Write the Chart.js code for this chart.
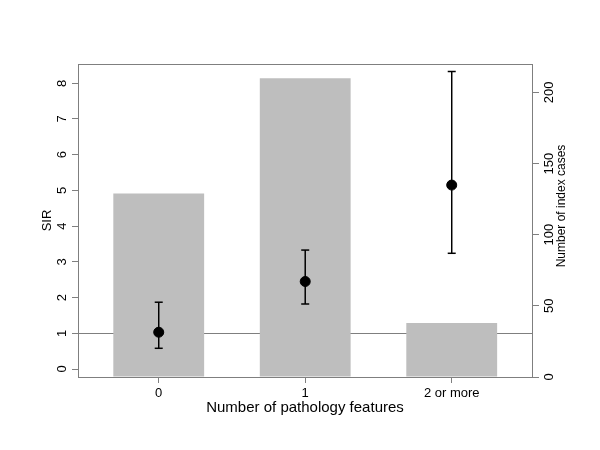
<!DOCTYPE html>
<html>
<head>
<meta charset="utf-8">
<script src="https://cdn.jsdelivr.net/npm/chart.js@4/dist/chart.umd.min.js"></script>
<style>
    html, body { margin: 0; padding: 0; background: #fff; }
    #wrap { width: 600px; height: 450px; }
</style>
</head>
<body>
<div id="wrap"><canvas id="chart-sir" width="600" height="450"></canvas></div>
<script>
const CATEGORIAS = ['0', '1', '2 or more'];
const POSICIONES = [0, 1, 2];

// numero de casos indice (eje derecho)
const CASOS = [129, 210, 38];

// SIR con intervalo de confianza (eje izquierdo)
const SIR = [1.03, 2.45, 5.15];
const SIR_INF = [0.58, 1.82, 3.24];
const SIR_SUP = [1.87, 3.33, 8.33];

const LINEA_REF = 1;

const FUENTE = "'Liberation Sans', Arial, sans-serif";
const GRIS_EJE = '#7f7f7f';
const TITULO_DERECHO = 'Number of index cases';

// marco, linea de referencia y titulo del eje derecho (Chart.js lo rota al reves)
const marcoPlugin = {
    id: 'marco',
    beforeDatasetsDraw(chart) {
        const { ctx, chartArea: a, scales } = chart;
        const y = scales.y.getPixelForValue(LINEA_REF);
        ctx.save();
        ctx.strokeStyle = GRIS_EJE;
        ctx.lineWidth = 1;
        ctx.beginPath();
        ctx.moveTo(a.left, Math.round(y) + 0.5);
        ctx.lineTo(a.right, Math.round(y) + 0.5);
        ctx.stroke();
        ctx.restore();
    },
    afterDraw(chart) {
        const { ctx, chartArea: a } = chart;
        ctx.save();
        ctx.strokeStyle = GRIS_EJE;
        ctx.lineWidth = 1;
        ctx.strokeRect(Math.round(a.left) + 0.5, Math.round(a.top) + 0.5,
            Math.round(a.right - a.left), Math.round(a.bottom - a.top));
        // titulo derecho, leido de abajo hacia arriba
        ctx.fillStyle = '#000';
        ctx.font = '12px ' + FUENTE;
        ctx.textAlign = 'center';
        ctx.textBaseline = 'middle';
        ctx.translate(562, 206);
        ctx.rotate(-Math.PI / 2);
        ctx.fillText(TITULO_DERECHO, 0, 0);
        ctx.restore();
    }
};

const datasets = [
    {
        type: 'scatter',
        label: 'SIR',
        data: POSICIONES.map((x, i) => ({ x, y: SIR[i] })),
        yAxisID: 'y',
        backgroundColor: '#000',
        borderColor: '#000',
        pointRadius: 5,
        order: 0,
    }
];

// barras de error: una linea por categoria
POSICIONES.forEach((x, i) => {
    datasets.push({
        type: 'line',
        label: 'IC ' + CATEGORIAS[i],
        data: [{ x, y: SIR_INF[i] }, { x, y: SIR_SUP[i] }],
        yAxisID: 'y',
        borderColor: '#000',
        borderWidth: 1.5,
        pointStyle: 'line',
        pointRadius: 4,
        pointBorderWidth: 1.5,
        pointBorderColor: '#000',
        fill: false,
        order: 1,
    });
});

datasets.push({
    type: 'bar',
    label: 'Casos',
    data: POSICIONES.map((x, i) => ({ x, y: CASOS[i] })),
    yAxisID: 'y2',
    backgroundColor: '#bebebe',
    borderWidth: 0,
    barPercentage: 0.62,
    categoryPercentage: 1,
    order: 5,
});

const ctx = document.getElementById('chart-sir').getContext('2d');
new Chart(ctx, {
    type: 'bar',
    data: { datasets },
    plugins: [marcoPlugin],
    options: {
        responsive: false,
        animation: false,
        layout: { padding: { left: 30, right: 30, top: 64, bottom: 30 } },
        plugins: {
            legend: { display: false },
            tooltip: { enabled: false }
        },
        scales: {
            x: {
                type: 'linear',
                offset: false,
                min: -0.551,
                max: 2.548,
                afterBuildTicks: (s) => { s.ticks = POSICIONES.map(v => ({ value: v })); },
                afterFit: (s) => { s.height = 43; },
                ticks: {
                    callback: (v) => CATEGORIAS[v],
                    color: '#000',
                    padding: 3,
                    maxRotation: 0,
                    font: { family: FUENTE, size: 13 }
                },
                grid: { offset: false, drawOnChartArea: false, drawTicks: true, tickLength: 6, color: GRIS_EJE },
                border: { display: false },
                title: {
                    display: true,
                    text: 'Number of pathology features',
                    color: '#000',
                    padding: { top: 0, bottom: 3 },
                    font: { family: FUENTE, size: 15 }
                }
            },
            y: {
                position: 'left',
                min: -0.224,
                max: 8.54,
                afterFit: (s) => { s.width = 48; },
                ticks: {
                    stepSize: 1,
                    includeBounds: false,
                    minRotation: 90,
                    maxRotation: 90,
                    crossAlign: 'center',
                    padding: 6,
                    color: '#000',
                    font: { family: FUENTE, size: 13 }
                },
                grid: { drawOnChartArea: false, drawTicks: true, tickLength: 6, color: GRIS_EJE },
                border: { display: false },
                title: {
                    display: true,
                    text: 'SIR',
                    color: '#000',
                    padding: { top: 10, bottom: 0 },
                    font: { family: FUENTE, size: 13 }
                }
            },
            y2: {
                position: 'right',
                min: 0,
                max: 220,
                afterFit: (s) => { s.width = 38; },
                ticks: {
                    stepSize: 50,
                    includeBounds: false,
                    minRotation: 90,
                    maxRotation: 90,
                    crossAlign: 'center',
                    padding: 0,
                    color: '#000',
                    font: { family: FUENTE, size: 13 }
                },
                grid: { drawOnChartArea: false, drawTicks: true, tickLength: 7, color: GRIS_EJE },
                border: { display: false },
                title: { display: false }
            }
        }
    }
});
</script>
</body>
</html>
